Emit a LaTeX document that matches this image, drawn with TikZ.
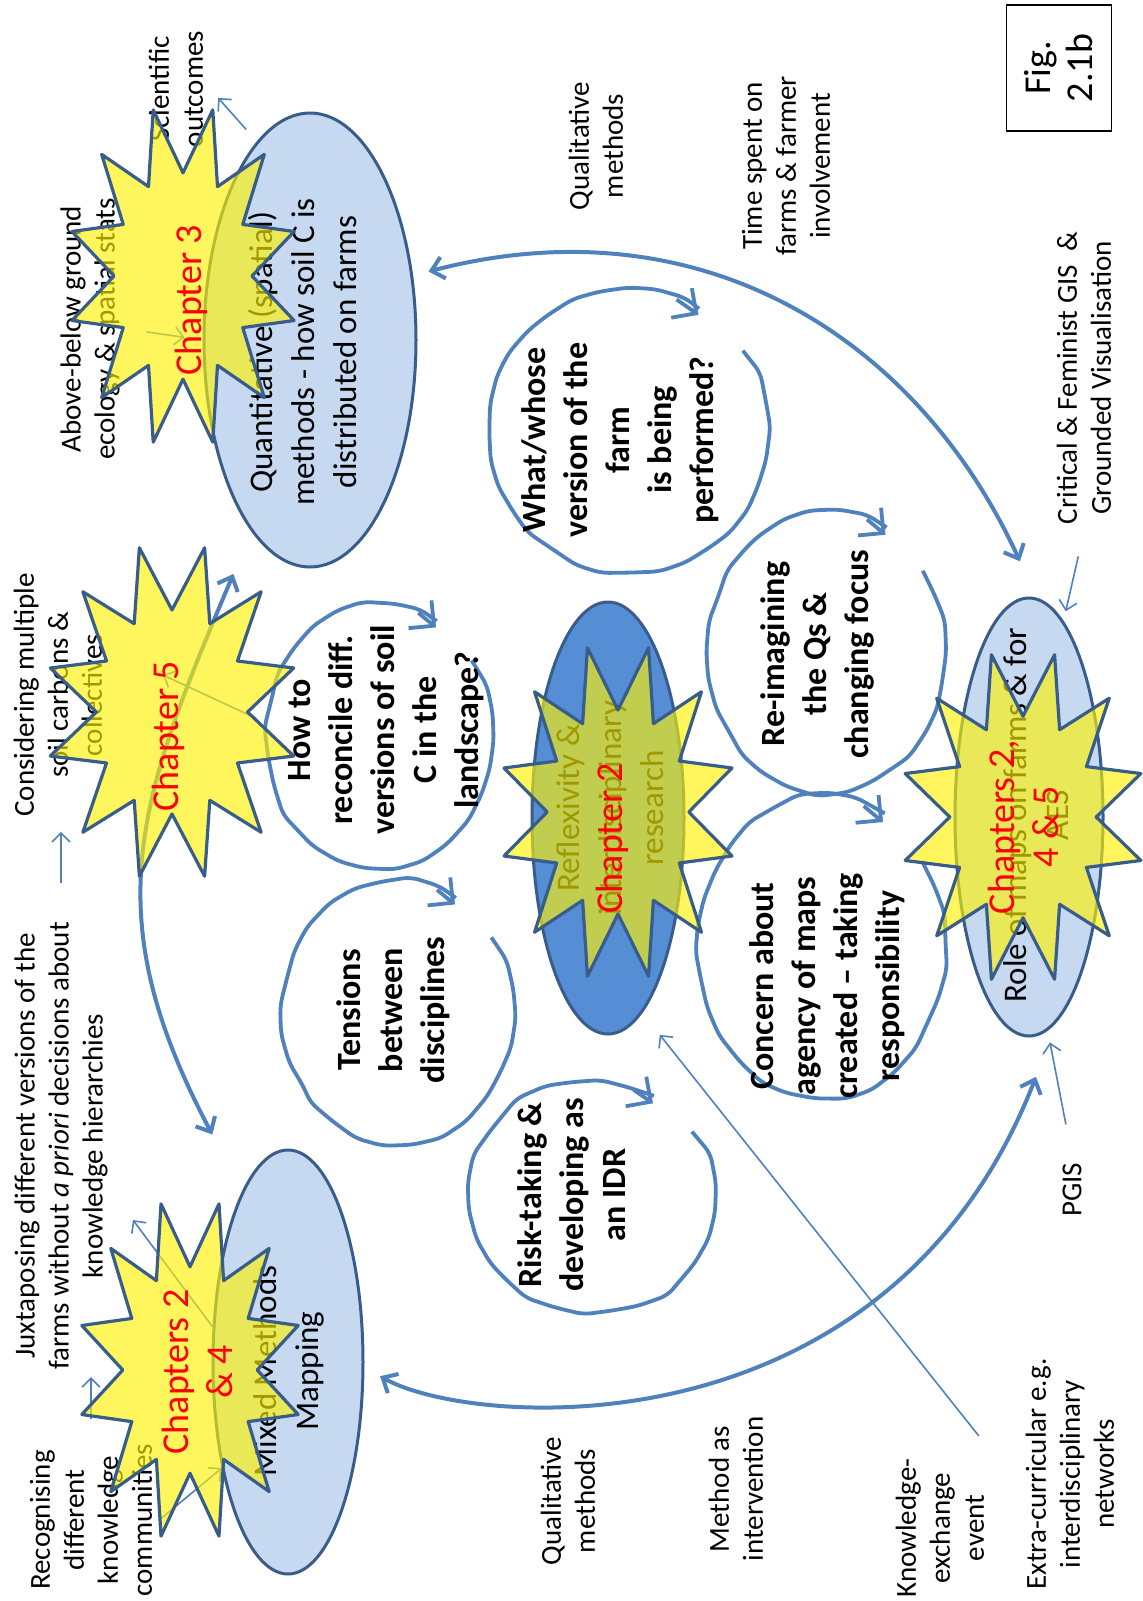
\documentclass[tikz,border=0pt]{standalone}
\usepackage{fontspec}
\setmainfont{Carlito}
\usetikzlibrary{arrows.meta,shapes.geometric,decorations.pathmorphing}
\definecolor{lineblue}{RGB}{79,129,189}
\definecolor{edgeblue}{RGB}{56,93,138}
\definecolor{paleblue}{RGB}{198,217,241}
\definecolor{deepblue}{RGB}{85,142,213}
\pgfmathsetseed{11}
\newcommand{\chapterstar}[3]{%
  \draw[starburst,shift={(#1)}] ({#2*cos(15)},{#3*sin(15)})
    \foreach \a in {15,45,...,345}{ -- ({#2*cos(\a)},{#3*sin(\a)}) -- ({0.6*#2*cos(\a+15)},{0.6*#3*sin(\a+15)}) } -- cycle;}
\newcommand{\loopbubble}[3]{%
  \draw[bubble,shift={(#1)}] ({#2*cos(-35)},{#3*sin(-35)}) arc[start angle=-35,end angle=300,x radius=#2,y radius=#3];
  \draw[bubbletip,shift={(#1)}] ({#2*cos(290)},{#3*sin(290)}) -- ({#2*cos(300)},{#3*sin(300)+5});}
\begin{document}
\begin{tikzpicture}[x=0.5pt,y=-0.5pt,
    ell/.style={ellipse,draw=edgeblue,line width=1.5pt,inner sep=0pt},
    elltxt/.style={rotate=90,align=center,font=\fontsize{16.5}{21}\selectfont},
    note/.style={rotate=90,align=center,font=\fontsize{14.5}{17}\selectfont},
    bubbletxt/.style={rotate=90,align=center,font=\fontsize{17}{21}\selectfont\bfseries},
    chaptxt/.style={rotate=90,align=center,text=red,font=\fontsize{19}{22}\selectfont},
    starburst/.style={draw=edgeblue,line width=1.6pt,fill=yellow,fill opacity=0.63,line join=round},
    bubble/.style={lineblue,line width=1.9pt,decorate,decoration={random steps,segment length=14pt,amplitude=1.1pt},rounded corners=4pt},
    bubbletip/.style={lineblue,line width=1.9pt,-{Straight Barb[length=9pt,width=18pt]}},
    bigarc/.style={lineblue,line width=2pt,{Straight Barb[length=6pt,width=11pt]}-{Straight Barb[length=6pt,width=11pt]}},
    thinarrow/.style={lineblue,line width=0.8pt,-{Straight Barb[length=4.5pt,width=9pt]}}]
\fill[white] (0,0) rectangle (1142,1601);
\useasboundingbox (0,0) rectangle (1142,1601);

\node[ell,fill=paleblue,minimum width=106pt,minimum height=227pt] (quant) at (310,340) {};
\node[ell,fill=paleblue,minimum width=75pt,minimum height=212pt] (mixed) at (288,1362) {};
\node[ell,fill=deepblue,minimum width=76pt,minimum height=216pt] (reflex) at (608,818) {};
\node[ell,fill=paleblue,minimum width=74pt,minimum height=219pt] (role) at (1029,817) {};

\node[elltxt] (quanttxt) at (303,352) {Quantitative (spatial)\\methods - how soil C is\\distributed on farms};
\node[elltxt] (mixedtxt) at (289,1371) {Mixed Methods\\Mapping};
\node[elltxt] (reflextxt) at (610,808) {Reflexivity \&\\interdisciplinary\\research};
\node[elltxt] (roletxt) at (1036,815) {Role of maps on farms \& for\\AES};

\node[note] (recog) at (91,1520) {Recognising\\different\\knowledge\\communities};
\node[note] (juxta) at (61,1146) {Juxtaposing different versions of the\\farms without \emph{a priori} decisions about\\knowledge hierarchies};
\node[note] (consid) at (58,695) {Considering multiple\\soil carbons \&\\collectives};
\node[note] (above) at (90,329) {Above-below ground\\ecology \& spatial stats};
\node[note] (sci) at (176,89) {Scientific\\outcomes};
\node[note] (qualtop) at (596,146) {Qualitative\\methods};
\node[note] (time) at (786,166) {Time spent on\\farms \& farmer\\involvement};
\node[note] (critgis) at (1084,378) {Critical \& Feminist GIS\ \ \&\\Grounded Visualisation};
\node[note] (pgis) at (1072,1190) {PGIS};
\node[note] (extra) at (1070,1474) {Extra-curricular e.g.\\interdisciplinary\\networks};
\node[note] (knowex) at (940,1528) {Knowledge-\\exchange\\event};
\node[note] (methint) at (736,1489) {Method as\\intervention};
\node[note] (qualbot) at (568,1501) {Qualitative\\methods};
\node[draw,line width=0.8pt,rotate=90,minimum width=63pt,minimum height=52.5pt,align=center,font=\fontsize{19}{21}\selectfont] (fig) at (1059,68) {Fig.\\2.1b};

\loopbubble{380,735}{112}{130}
\node[bubbletxt] (howto) at (386,730) {How to\\reconcile diff.\\versions of soil\\C in the\\landscape?};
\loopbubble{398,1012}{114}{130}
\node[bubbletxt] (tension) at (393,1010) {Tensions\\between\\disciplines};
\loopbubble{592,1197}{122}{114}
\node[bubbletxt] (risk) at (572,1195) {Risk-taking \&\\developing as\\an IDR};
\loopbubble{629,431}{139}{140}
\node[bubbletxt] (whose) at (620,440) {What/whose\\version of the\\farm\\is being\\performed?};
\loopbubble{827,651}{117}{140}
\node[bubbletxt] (reimag) at (817,654) {Re-imagining\\the Qs \&\\changing focus};
\loopbubble{822,947}{122}{150}
\node[bubbletxt] (concern) at (827,986) {Concern about\\agency of maps\\created -- taking\\responsibility};

\draw[bigarc,shorten <=8pt,shorten >=20pt] (quant.32) .. controls +(287,-75) and +(-120,-261) .. (role.88);
\draw[bigarc,shorten <=23pt,shorten >=32pt] (quant.-107) .. controls +(-116,273) and +(-146,-276) .. (mixed.105);
\draw[bigarc,shorten <=30pt,shorten >=9pt] (role.-82) .. controls +(-170,437) and +(108,61) .. (mixed.-4);

\coordinate (hier) at (133,1220);
\coordinate (collect) at (163,675);
\draw[thinarrow,shorten <=9pt] (recog.east) -- (recog.east |- juxta.west);
\draw[thinarrow,shorten <=16pt,shorten >=4pt] (juxta.east) -- (juxta.east |- consid.west);
\draw[thinarrow] (mixed.155) -- (hier);
\draw[thinarrow] (recog.south) -- (mixed.-122);
\draw[thinarrow,shorten <=14pt] (howto.north) -- (collect);
\draw[thinarrow,shorten <=10pt,shorten >=9pt] (above.south) -- (quant.west);
\draw[thinarrow,shorten <=8pt,shorten >=6pt] (quant.105) -- (sci.south);
\draw[thinarrow,shorten <=13pt,shorten >=5pt] (critgis.west) -- (role.80);
\draw[thinarrow,shorten <=16pt,shorten >=6pt] (pgis.east) -- (role.-85);
\draw[thinarrow,shorten <=10pt,shorten >=14pt] (knowex.south east) -- (reflex.-80);

\chapterstar{183,276}{115}{172}
\node[chaptxt] (ch3) at (191,300) {Chapter 3};
\chapterstar{172,712}{126}{170}
\node[chaptxt] (ch5) at (168,736) {Chapter 5};
\chapterstar{190,1370}{112}{172}
\node[chaptxt] (ch24) at (197,1372) {Chapters 2\\\& 4};
\chapterstar{618,812}{118}{170}
\node[chaptxt] (ch2) at (612,838) {Chapter 2};
\chapterstar{1023,817}{122}{168}
\node[chaptxt] (ch245) at (1023,827) {Chapters 2,\\4 \& 5};
\end{tikzpicture}
\end{document}
